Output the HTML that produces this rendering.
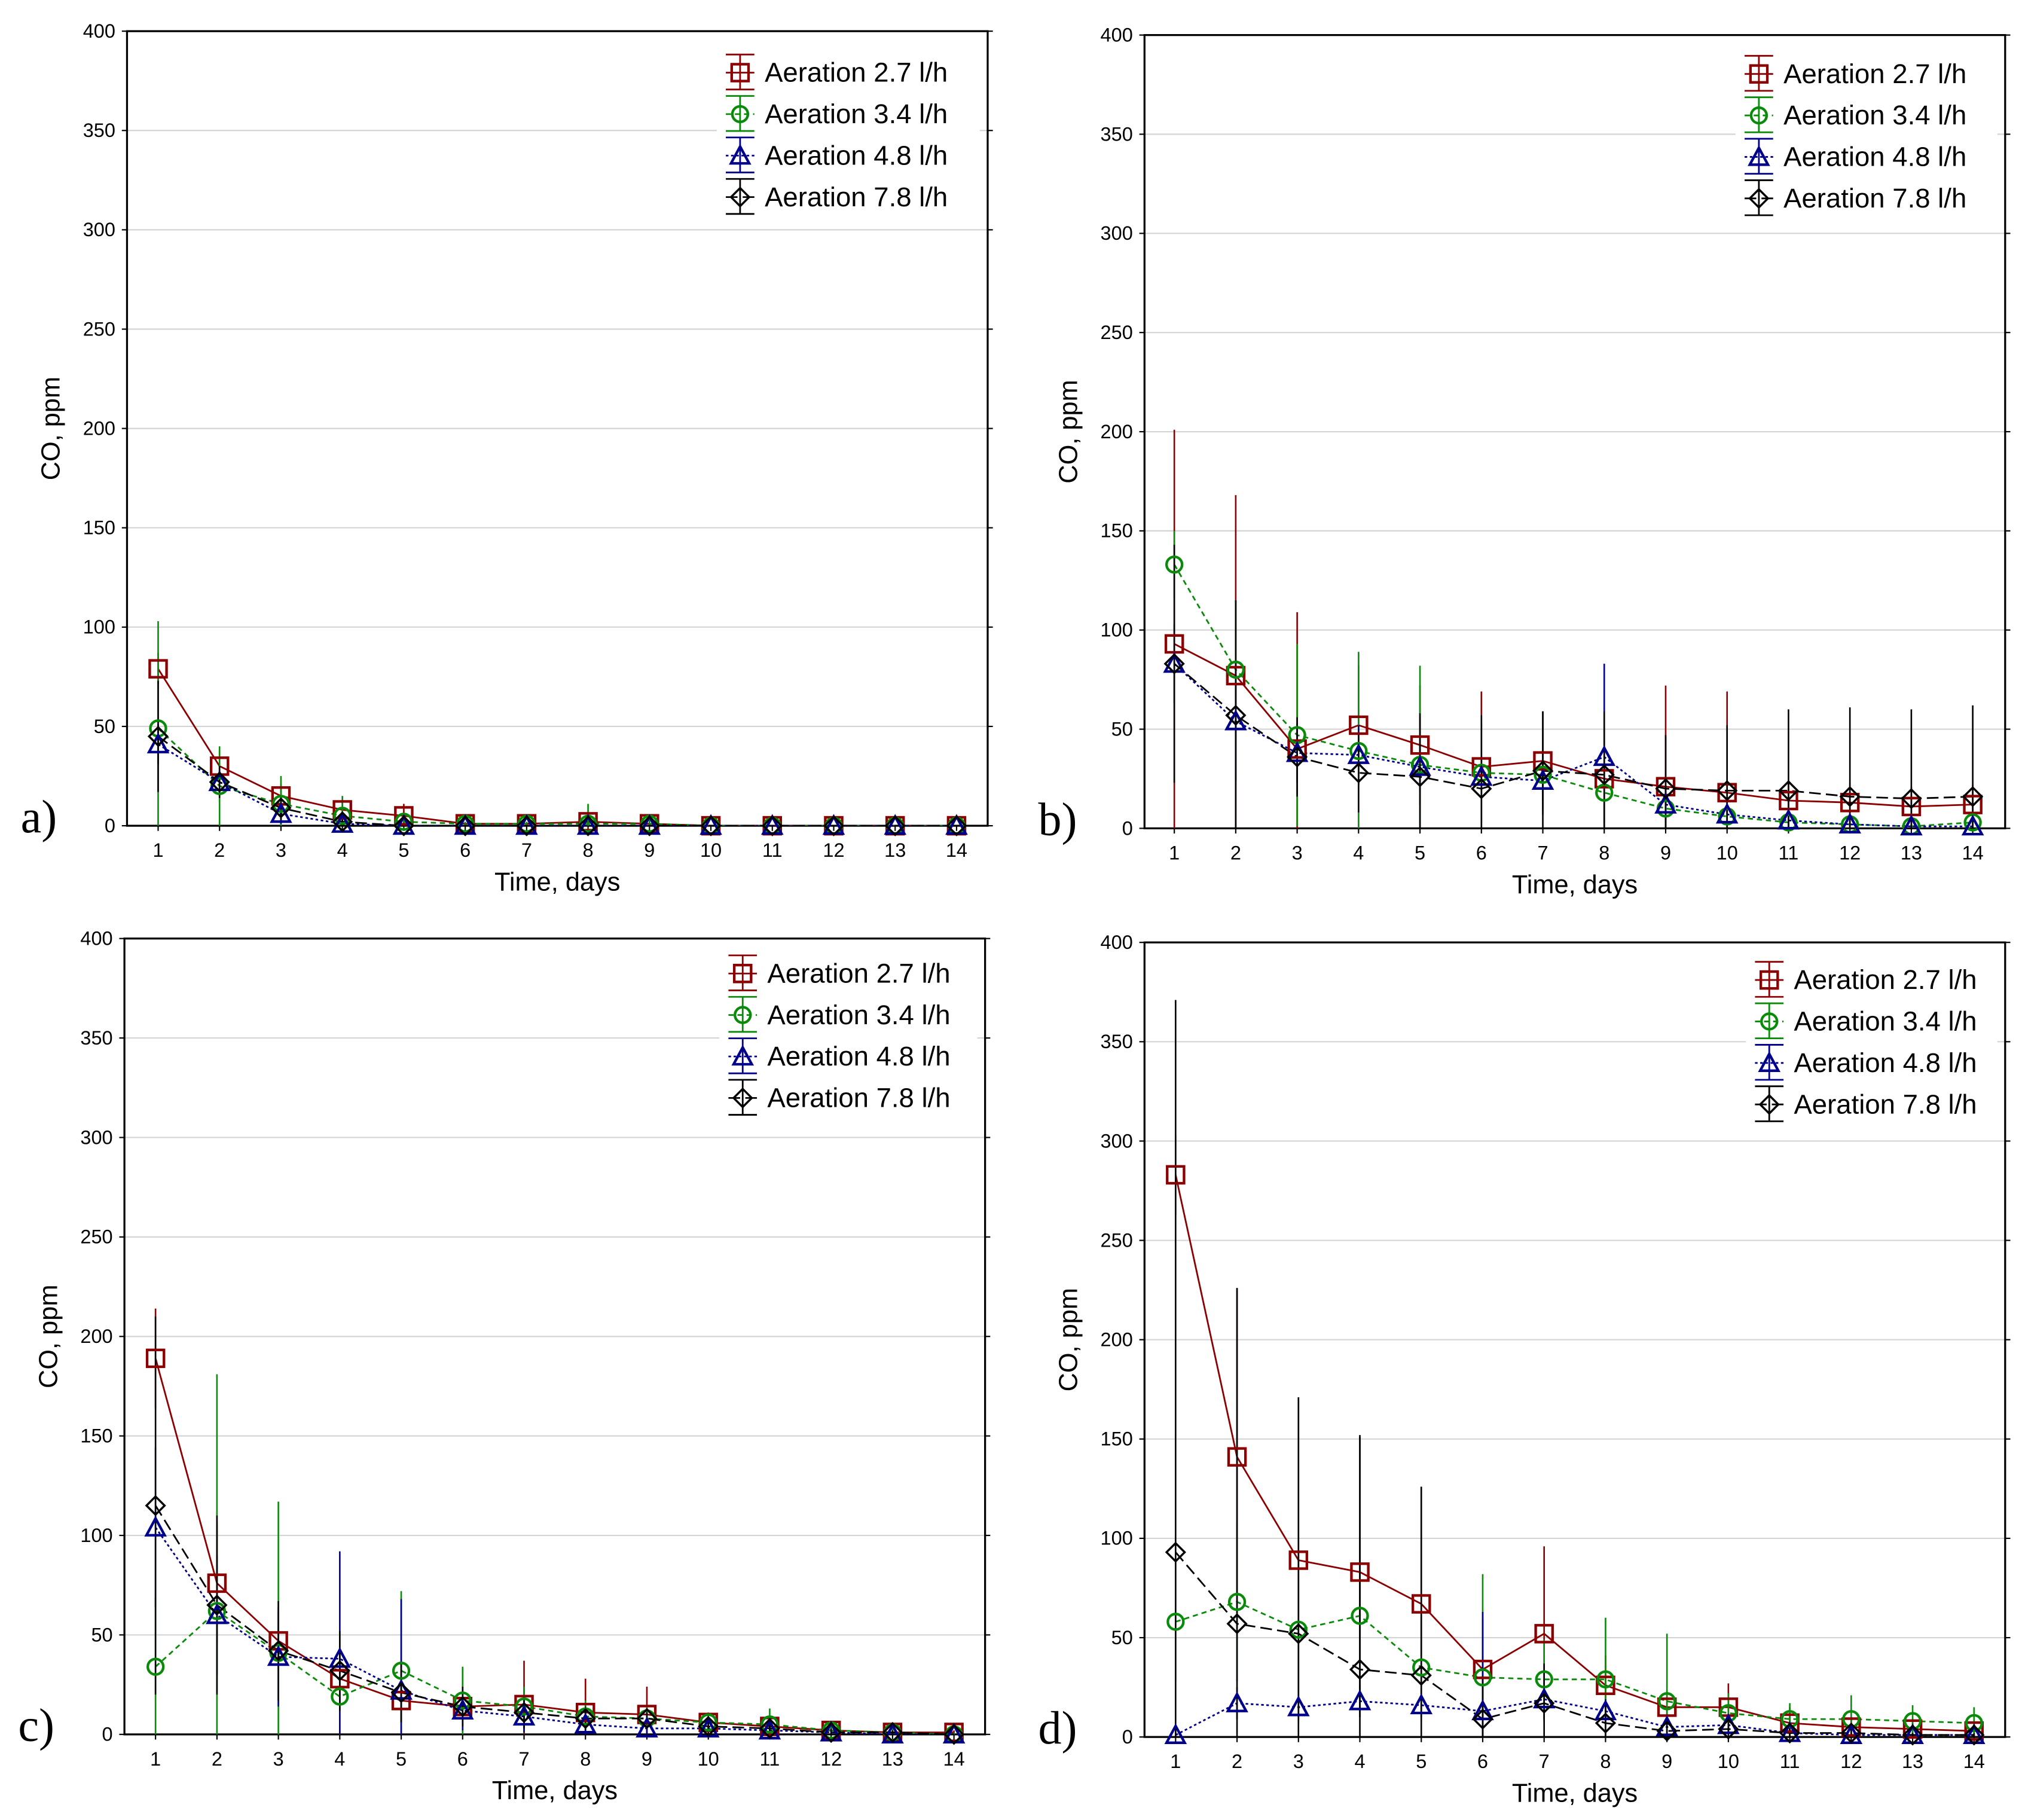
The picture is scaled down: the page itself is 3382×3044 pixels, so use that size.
<!DOCTYPE html>
<html><head><meta charset="utf-8">
<style>
html,body{margin:0;padding:0;background:#fff;width:3382px;height:3044px;overflow:hidden;}
svg{display:block;}
text{font-family:"Liberation Sans",Arial,sans-serif;}
</style></head>
<body>
<svg id="chart" width="3382" height="3044" viewBox="0 0 1560 1404" xmlns="http://www.w3.org/2000/svg"></svg>
<script>
const days = [1,2,3,4,5,6,7,8,9,10,11,12,13,14];
const yTicks = [0,50,100,150,200,250,300,350,400];
const seriesLabels = ["Aeration 2.7 l/h","Aeration 3.4 l/h","Aeration 4.8 l/h","Aeration 7.8 l/h"];

const aRed   = [79,30,15,8,5,1,1,2,1,0,0,0,0,0];
const aGreen = [49,20,11,5,2,1,1,1,1,0,0,0,0,0];
const aBlue  = [41,22,6,1,0,0,0,0,0,0,0,0,0,0];
const aBlack = [45,22,9,2,0,0,0,0,0,0,0,0,0,0];
const aRedErr   = [8,8,6,5,6,1,1,2,1,0,0,0,0,0];
const aGreenErr = [54,20,14,10,3,1,1,10,2,0,0,0,0,0];
const aBlueErr  = [10,6,5,2,1,0,0,0,0,0,0,0,0,0];
const aBlackErr = [28,8,6,2,1,0,0,0,0,0,0,0,0,0];

const bRed   = [93,77,40,52,42,31,34,25,21,18,14,13,11,12];
const bGreen = [133,80,47,39,32,28,27,18,10,6,3,2,1,3];
const bBlue  = [83,54,38,37,31,26,24,36,12,7,4,2,1,1];
const bBlack = [83,57,36,28,26,20,29,27,20,19,19,16,15,16];
const bRedErr   = [108,91,69,30,30,38,25,25,51,51,10,10,10,10];
const bGreenErr = [17,35,46,50,50,25,20,15,10,8,4,3,2,3];
const bBlueErr  = [20,30,15,15,12,10,10,47,8,6,3,2,1,1];
const bBlackErr = [60,58,20,20,32,37,30,32,27,33,41,45,45,46];

const cRed   = [189,76,47,28,17,14,15,11,10,6,4,2,1,1];
const cGreen = [34,62,41,19,32,17,14,9,8,6,5,2,1,0];
const cBlue  = [104,60,39,38,22,12,9,5,3,3,2,1,0,0];
const cBlack = [115,65,42,32,21,14,11,8,8,4,3,1,1,0];
const cRedErr   = [25,30,15,12,10,10,22,17,14,5,4,3,2,1];
const cGreenErr = [35,119,76,20,40,17,10,8,6,4,8,3,2,1];
const cBlueErr  = [40,30,25,54,46,10,8,5,3,2,2,1,1,0];
const cBlackErr = [95,45,25,20,15,10,8,6,5,4,3,2,1,0];

const dRed   = [283,141,89,83,67,34,52,26,15,15,7,5,4,3];
const dGreen = [58,68,54,61,35,30,29,29,18,12,9,9,8,7];
const dBlue  = [1,17,15,18,16,13,19,13,5,6,2,1,1,1];
const dBlack = [93,57,52,34,31,9,17,7,3,4,2,2,1,1];
const dRedErr   = [20,85,82,68,59,25,44,15,8,12,8,5,4,3];
const dGreenErr = [30,40,40,40,25,52,20,31,34,10,8,12,8,8];
const dBlueErr  = [3,8,6,8,6,50,10,6,3,3,2,1,1,1];
const dBlackErr = [278,169,119,118,95,20,20,10,5,5,3,2,1,1];

const panels = [
 {id:"a",L:98,R:762,T:24,B:637,x1:122,x14:738,series:[aRed,aGreen,aBlue,aBlack],errs:[aRedErr,aGreenErr,aBlueErr,aBlackErr],legX:557,legY:53},
 {id:"b",L:883,R:1547,T:27,B:639,x1:906,x14:1522,series:[bRed,bGreen,bBlue,bBlack],errs:[bRedErr,bGreenErr,bBlueErr,bBlackErr],legX:1343,legY:54},
 {id:"c",L:96,R:760,T:724,B:1338,x1:120,x14:736,series:[cRed,cGreen,cBlue,cBlack],errs:[cRedErr,cGreenErr,cBlueErr,cBlackErr],legX:559,legY:748},
 {id:"d",L:883,R:1547,T:727,B:1340,x1:907,x14:1523,series:[dRed,dGreen,dBlue,dBlack],errs:[dRedErr,dGreenErr,dBlueErr,dBlackErr],legX:1351,legY:753}
];
const colors = ["#8b0000","#0a8a0a","#00008b","#000000"];
const dashes = ["","4,3","2,2","9,4"];
const NS = "http://www.w3.org/2000/svg";
const svg = document.getElementById("chart");
function mk(tag, attrs, parent){const e=document.createElementNS(NS,tag);for(const k in attrs)e.setAttribute(k,attrs[k]);parent.appendChild(e);return e;}

function marker(g, k, x, y, c){
  let m;
  if(k===0) m=mk("rect",{x:x-6.5,y:y-6.5,width:13,height:13,fill:"none",stroke:c,"stroke-width":2},g);
  else if(k===1) m=mk("circle",{cx:x,cy:y,r:6,fill:"none",stroke:c,"stroke-width":2},g);
  else if(k===2) m=mk("polygon",{points:`${x},${y-7} ${x+7},${y+6} ${x-7},${y+6}`,fill:"none",stroke:c,"stroke-width":2},g);
  else m=mk("polygon",{points:`${x},${y-7} ${x+7},${y} ${x},${y+7} ${x-7},${y}`,fill:"none",stroke:c,"stroke-width":1.6},g);
  return m;
}

panels.forEach(p=>{
  const g = mk("g",{},svg);
  
  
  const xs = d => p.x1 + (d-1)*(p.x14-p.x1)/13;
  const ys = v => p.B - v*(p.B-p.T)/400;
  const clipId = "clip"+p.id;
  const cp = mk("clipPath",{id:clipId},g);
  mk("rect",{x:p.L,y:p.T,width:p.R-p.L,height:p.B-p.T},cp);
  yTicks.forEach(t=>{
    const y = ys(t);
    if(t>0 && t<400){
      const gl = mk("line",{x1:p.L,x2:p.R,y1:y,y2:y,stroke:"#d4d4d4","stroke-width":1},g);
      
      
    }
    mk("line",{x1:p.L-4,x2:p.L,y1:y,y2:y,stroke:"#000","stroke-width":1},g);
    mk("line",{x1:p.R,x2:p.R+4,y1:y,y2:y,stroke:"#000","stroke-width":1},g);
    const tl = mk("text",{x:p.L-9,y:y+5,"font-size":15,"text-anchor":"end"},g);
    tl.textContent = t;
    
    
  });
  days.forEach(d=>{
    const x = xs(d);
    mk("line",{x1:x,x2:x,y1:p.B,y2:p.B+4,stroke:"#000","stroke-width":1},g);
    const tl = mk("text",{x:x,y:p.B+24,"font-size":15,"text-anchor":"middle"},g);
    tl.textContent = d;
    
    
  });
  const frame = mk("rect",{x:p.L,y:p.T,width:p.R-p.L,height:p.B-p.T,fill:"none",stroke:"#000","stroke-width":1.5},g);
  
  
  const xt = mk("text",{x:(p.L+p.R)/2,y:p.B+50,"font-size":20,"text-anchor":"middle"},g);
  xt.textContent = "Time, days";
  
  
  const yt = mk("text",{x:0,y:0,"font-size":20,"text-anchor":"middle",transform:`translate(${p.L-52},${(p.T+p.B)/2}) rotate(-90)`},g);
  yt.textContent = "CO, ppm";
  
  
  const pl = mk("text",{x:p.L-82,y:p.B+5,"font-size":36},g);
  pl.setAttribute("style","font-family:'Liberation Serif',serif");
  pl.textContent = p.id+")";
  
  
  const sg = mk("g",{"clip-path":`url(#${clipId})`},g);
  p.series.forEach((vals,k)=>{
    const c = colors[k];
    const err = p.errs[k];
    vals.forEach((v,i)=>{
      const x = xs(days[i]);
      const eb = mk("line",{x1:x,x2:x,y1:ys(v+err[i]),y2:ys(v-err[i]),stroke:c,"stroke-width":1.2},sg);
      
      
    });
    const pts = vals.map((v,i)=>xs(days[i])+","+ys(v)).join(" ");
    const ln = mk("polyline",{points:pts,fill:"none",stroke:c,"stroke-width":1.3,"stroke-dasharray":dashes[k]},sg);
    
    
  });
  p.series.forEach((vals,k)=>{
    vals.forEach((v,i)=>{
      const m = marker(g,k,xs(days[i]),ys(v),colors[k]);
      
      
    });
  });
  const lg = mk("g",{},g);
  
  
  mk("rect",{x:p.legX-4,y:p.legY-20,width:p.R-p.legX-2,height:134,fill:"#fff"},lg);
  seriesLabels.forEach((lab,k)=>{
    const y = p.legY + k*32;
    const sx = p.legX+14, c = colors[k];
    const e = mk("g",{},lg);
    
    
    mk("line",{x1:sx,x2:sx,y1:y-11,y2:y+16,stroke:c,"stroke-width":1.3},e);
    mk("line",{x1:sx-11,x2:sx+11,y1:y-11,y2:y-11,stroke:c,"stroke-width":1.3},e);
    mk("line",{x1:sx-11,x2:sx+11,y1:y+16,y2:y+16,stroke:c,"stroke-width":1.3},e);
    mk("line",{x1:sx-11,x2:sx+11,y1:y+3,y2:y+3,stroke:c,"stroke-width":1.3,"stroke-dasharray":dashes[k]},e);
    marker(e,k,sx,y+3,c);
    const t = mk("text",{x:sx+19,y:y+10,"font-size":21},e);
    t.textContent = lab;
  });
});
</script>
</body></html>
